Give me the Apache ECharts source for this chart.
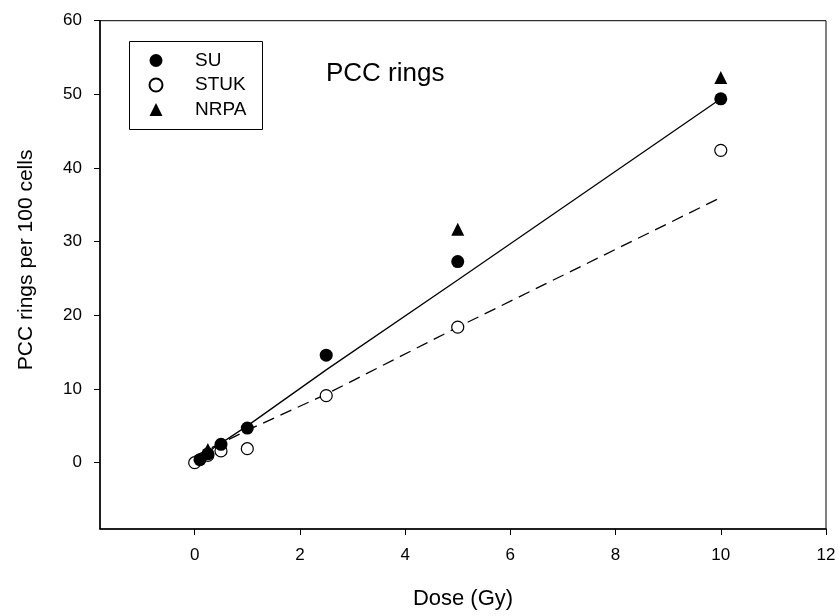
<!DOCTYPE html>
<html>
<head>
<meta charset="utf-8">
<script src="https://cdn.jsdelivr.net/npm/echarts@6/dist/echarts.min.js"></script>
<style>html,body{margin:0;padding:0;background:#fff;}#c{width:839px;height:616px;}</style>
</head>
<body>
<div id="c"></div>
<script>
// Measured data (dose in Gy, PCC rings per 100 cells)
const suDose = [0.1, 0.25, 0.5, 1, 2.5, 5, 10];
const suValue = [0.4, 1.2, 2.5, 4.7, 14.6, 27.3, 49.4];
const stukDose = [0, 0.25, 0.5, 1, 2.5, 5, 10];
const stukValue = [0, 1.0, 1.6, 1.9, 9.1, 18.4, 42.4];
const nrpaDose = [0.25, 5, 10];
const nrpaValue = [1.8, 31.7, 52.3];
// Fitted curves
const suFitDose = [0, 1, 2.5, 5, 10];
const suFitValue = [0.3, 5.0, 12.6, 24.8, 49.4];
const stukFitDose = [0, 1, 2.5, 5, 10];
const stukFitValue = [0.9, 4.4, 9.3, 18.4, 36.0];
const xTicks = [0, 2, 4, 6, 8, 10, 12];
const yTicks = [0, 10, 20, 30, 40, 50, 60];

const pairs = (xs, ys) => xs.map((x, i) => [x, ys[i]]);
const FONT = '"Liberation Sans", Arial, sans-serif';

const chart = echarts.init(document.getElementById('c'));
chart.setOption({
  backgroundColor: '#fff',
  animation: false,
  title: {
    text: 'PCC rings',
    left: 326, top: 61, padding: 0,
    textStyle: { fontFamily: FONT, fontSize: 26, fontWeight: 'normal', color: '#000' }
  },
  legend: {
    orient: 'vertical',
    left: 148.5, top: 51, padding: 0,
    itemWidth: 13, itemHeight: 13, itemGap: 5.5,
    data: ['SU', 'STUK', 'NRPA'],
    formatter: '{t|{name}}',
    textStyle: {
      fontFamily: FONT, fontSize: 19, color: '#000', lineHeight: 19,
      rich: { t: { fontFamily: FONT, fontSize: 19, color: '#000', lineHeight: 19, padding: [0, 0, 0, 27.5] } }
    }
  },
  graphic: [{
    type: 'rect', z: 100, silent: true,
    shape: { x: 129.5, y: 41.5, width: 133, height: 88 },
    style: { fill: 'none', stroke: '#000', lineWidth: 1 }
  }],
  grid: {
    left: 100, right: 13, top: 20.7, bottom: 87,
    show: true, borderColor: '#000', borderWidth: 1, backgroundColor: 'transparent'
  },
  xAxis: {
    type: 'value', min: -1.8, max: 12,
    name: 'Dose (Gy)', nameLocation: 'middle', nameGap: 59,
    nameTextStyle: { fontFamily: FONT, fontSize: 22, color: '#000' },
    axisLine: { show: true, onZero: false, lineStyle: { color: '#000', width: 1.5 } },
    axisTick: { show: true, inside: false, customValues: xTicks, length: 6, lineStyle: { color: '#000', width: 1 } },
    axisLabel: { customValues: xTicks, fontFamily: FONT, fontSize: 17, color: '#000', margin: 18 },
    splitLine: { show: false }
  },
  yAxis: {
    type: 'value', min: -9, max: 60,
    name: 'PCC rings per 100 cells', nameLocation: 'middle', nameGap: 63,
    nameTextStyle: { fontFamily: FONT, fontSize: 21, color: '#000', padding: [0, 0, 0, 30] },
    axisLine: { show: true, onZero: false, lineStyle: { color: '#000', width: 1.5 } },
    axisTick: { show: true, inside: false, customValues: yTicks, length: 6, lineStyle: { color: '#000', width: 1 } },
    axisLabel: { customValues: yTicks, fontFamily: FONT, fontSize: 17, color: '#000', margin: 18 },
    splitLine: { show: false }
  },
  series: [
    {
      name: 'SU fit', type: 'line', data: pairs(suFitDose, suFitValue),
      showSymbol: false, silent: true, z: 1,
      lineStyle: { color: '#000', width: 1.3, type: 'solid' }
    },
    {
      name: 'STUK fit', type: 'line', data: pairs(stukFitDose, stukFitValue),
      showSymbol: false, silent: true, z: 1,
      lineStyle: { color: '#000', width: 1.3, type: [12, 7] }
    },
    {
      name: 'SU', type: 'scatter', data: pairs(suDose, suValue),
      symbol: 'circle', symbolSize: 13, z: 3,
      itemStyle: { color: '#000', borderColor: '#000', borderWidth: 0, opacity: 1 }
    },
    {
      name: 'STUK', type: 'scatter', data: pairs(stukDose, stukValue),
      symbol: 'circle', symbolSize: 12, z: 2,
      itemStyle: { color: '#fff', borderColor: '#000', borderWidth: 1.2, opacity: 1 }
    },
    {
      name: 'NRPA', type: 'scatter', data: pairs(nrpaDose, nrpaValue),
      symbol: 'triangle', symbolSize: 13, z: 3,
      itemStyle: { color: '#000', borderColor: '#000', borderWidth: 0, opacity: 1 }
    }
  ]
});
</script>
</body>
</html>
